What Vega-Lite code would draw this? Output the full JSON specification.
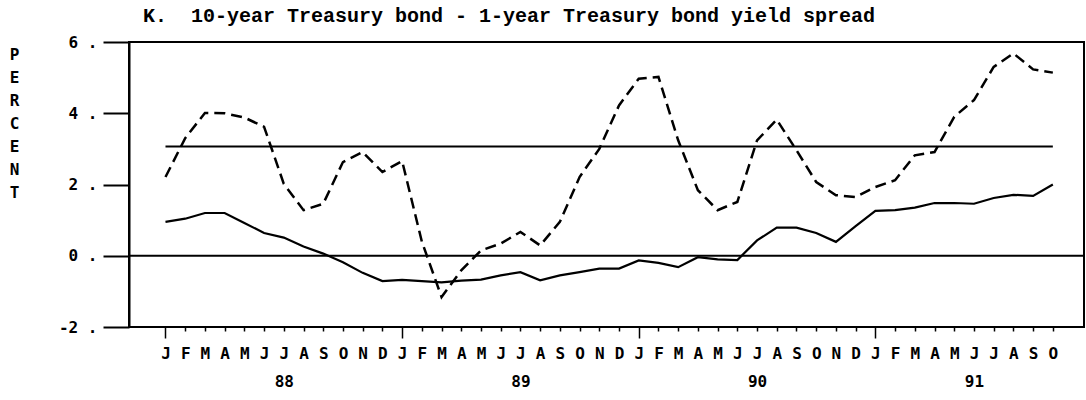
{
  "$schema": "https://vega.github.io/schema/vega-lite/v6.json",
  "width": 955,
  "height": 285,
  "autosize": {"type": "none"},
  "padding": {"left": 129, "top": 42, "right": 2, "bottom": 73},
  "background": "white",
  "config": {
    "view": {"stroke": "black", "strokeWidth": 2},
    "axis": {"labelFont": "DejaVu Sans Mono", "labelFontWeight": "bold", "labelColor": "black", "tickColor": "black", "domainColor": "black", "titleColor": "black", "grid": false, "labelOverlap": false}
  },
  "title": {
    "text": "K.\u00a0\u00a010-year Treasury bond - 1-year Treasury bond yield spread",
    "anchor": "start",
    "frame": "group",
    "font": "Liberation Mono",
    "fontSize": 20,
    "fontWeight": "bold",
    "color": "black",
    "dx": 14,
    "offset": -8,
    "baseline": "alphabetic"
  },
  "datasets": {
    "spread": [
      {"m": 0, "s": 0.95, "d": 2.21},
      {"m": 1, "s": 1.04, "d": 3.3},
      {"m": 2, "s": 1.2, "d": 4.01},
      {"m": 3, "s": 1.2, "d": 4.0},
      {"m": 4, "s": 0.92, "d": 3.88},
      {"m": 5, "s": 0.64, "d": 3.62},
      {"m": 6, "s": 0.51, "d": 2.02},
      {"m": 7, "s": 0.26, "d": 1.28},
      {"m": 8, "s": 0.06, "d": 1.46},
      {"m": 9, "s": -0.18, "d": 2.63},
      {"m": 10, "s": -0.48, "d": 2.91},
      {"m": 11, "s": -0.71, "d": 2.35},
      {"m": 12, "s": -0.68, "d": 2.66},
      {"m": 13, "s": -0.71, "d": 0.4},
      {"m": 14, "s": -0.75, "d": -1.16},
      {"m": 15, "s": -0.7, "d": -0.41},
      {"m": 16, "s": -0.67, "d": 0.15},
      {"m": 17, "s": -0.55, "d": 0.34},
      {"m": 18, "s": -0.46, "d": 0.67},
      {"m": 19, "s": -0.69, "d": 0.29},
      {"m": 20, "s": -0.55, "d": 0.95},
      {"m": 21, "s": -0.46, "d": 2.21},
      {"m": 22, "s": -0.36, "d": 3.0},
      {"m": 23, "s": -0.36, "d": 4.22},
      {"m": 24, "s": -0.13, "d": 4.97},
      {"m": 25, "s": -0.2, "d": 5.02},
      {"m": 26, "s": -0.32, "d": 3.24},
      {"m": 27, "s": -0.04, "d": 1.84},
      {"m": 28, "s": -0.1, "d": 1.28},
      {"m": 29, "s": -0.12, "d": 1.51},
      {"m": 30, "s": 0.43, "d": 3.24},
      {"m": 31, "s": 0.79, "d": 3.82},
      {"m": 32, "s": 0.79, "d": 2.96},
      {"m": 33, "s": 0.64, "d": 2.07},
      {"m": 34, "s": 0.39, "d": 1.7},
      {"m": 35, "s": 0.83, "d": 1.65},
      {"m": 36, "s": 1.26, "d": 1.93},
      {"m": 37, "s": 1.28, "d": 2.12},
      {"m": 38, "s": 1.35, "d": 2.82},
      {"m": 39, "s": 1.48, "d": 2.91},
      {"m": 40, "s": 1.48, "d": 3.9},
      {"m": 41, "s": 1.46, "d": 4.37},
      {"m": 42, "s": 1.62, "d": 5.3},
      {"m": 43, "s": 1.71, "d": 5.68},
      {"m": 44, "s": 1.68, "d": 5.23},
      {"m": 45, "s": 2.0, "d": 5.14}
    ],
    "refline": [{"m0": 0, "m1": 45, "y": 3.07}],
    "zero": [{"y": 0}]
  },
  "layer": [
    {
      "data": {"name": "zero"},
      "mark": {"type": "rule", "color": "black", "strokeWidth": 2},
      "encoding": {
        "y": {"field": "y", "type": "quantitative", "scale": {"domain": [-2, 6], "nice": false, "zero": false},
          "axis": {
            "values": [-2, 0, 2, 4, 6],
            "tickSize": 26,
            "tickWidth": 2,
            "domainWidth": 2,
            "labelPadding": 6,
            "labelFontSize": 16,
            "labelExpr": "datum.value + ' .'",
            "title": ["P", "E", "R", "C", "E", "N", "T"],
            "titleAngle": 0,
            "titleX": -115,
            "titleY": 4,
            "titleAlign": "center",
            "titleBaseline": "top",
            "titleLineHeight": 23,
            "titleFont": "DejaVu Sans Mono",
            "titleFontSize": 16,
            "titleFontWeight": "bold"
          }
        }
      }
    },
    {
      "data": {"name": "refline"},
      "mark": {"type": "rule", "color": "black", "strokeWidth": 2},
      "encoding": {
        "x": {"field": "m0", "type": "quantitative"},
        "x2": {"field": "m1"},
        "y": {"field": "y", "type": "quantitative"}
      }
    },
    {
      "data": {"name": "spread"},
      "mark": {"type": "line", "color": "black", "strokeWidth": 2.2},
      "encoding": {
        "x": {"field": "m", "type": "quantitative",
          "scale": {"domain": [-1.85, 46.58], "nice": false, "zero": false},
          "axis": {
            "values": [0,1,2,3,4,5,6,7,8,9,10,11,12,13,14,15,16,17,18,19,20,21,22,23,24,25,26,27,28,29,30,31,32,33,34,35,36,37,38,39,40,41,42,43,44,45],
            "tickCount": 100,
            "domain": false,
            "tickSize": {"condition": {"test": "datum.value % 12 == 0", "value": 11}, "value": 4},
            "tickWidth": 1.5,
            "labelPadding": {"condition": {"test": "datum.value % 12 == 0", "value": 7}, "value": 14},
            "labelBaseline": "top",
            "labelFontSize": 16,
            "labelLineHeight": 28,
            "labelOverlap": false,
            "labelFlush": false,
            "labelBound": false,
            "labelExpr": "datum.value == 6 ? ['J','88'] : datum.value == 18 ? ['J','89'] : datum.value == 30 ? ['J','90'] : datum.value == 41 ? ['J','91'] : ['J','F','M','A','M','J','J','A','S','O','N','D'][datum.value % 12]",
            "title": null
          }
        },
        "y": {"field": "s", "type": "quantitative"}
      }
    },
    {
      "data": {"name": "spread"},
      "mark": {"type": "line", "color": "black", "strokeWidth": 2.5, "strokeDash": [11, 6]},
      "encoding": {
        "x": {"field": "m", "type": "quantitative"},
        "y": {"field": "d", "type": "quantitative"}
      }
    }
  ]
}
